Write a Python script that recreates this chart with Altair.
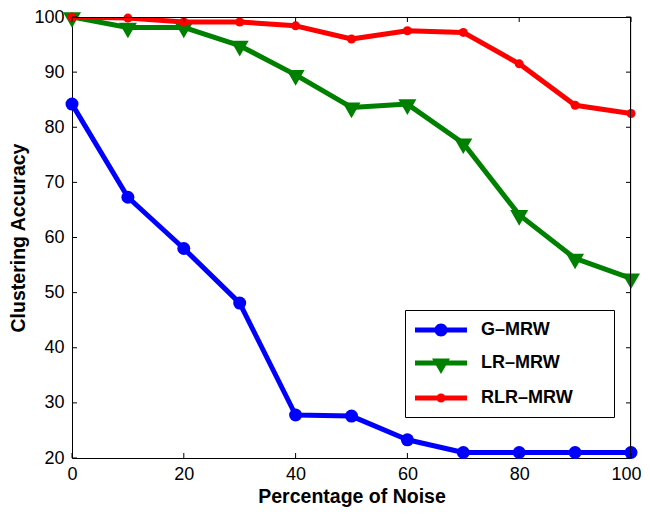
import altair as alt
import pandas as pd

# ---- data ----
noise = [0, 10, 20, 30, 40, 50, 60, 70, 80, 90, 100]
g_mrw = [84.2, 67.3, 58.0, 48.1, 27.8, 27.6, 23.3, 21.0, 21.0, 21.0, 21.0]
lr_mrw = [100.0, 98.1, 98.1, 94.8, 89.5, 83.6, 84.2, 77.1, 64.1, 56.2, 52.6]
rlr_mrw = [100.0, 99.8, 99.1, 99.1, 98.4, 96.0, 97.5, 97.2, 91.5, 84.0, 82.5]
names = ["G\u2013MRW", "LR\u2013MRW", "RLR\u2013MRW"]
colors = ["#0000ff", "#008000", "#ff0000"]
x_ticks = [0, 20, 40, 60, 80, 100]
y_ticks = [20, 30, 40, 50, 60, 70, 80, 90, 100]

rows = []
for name, vals in zip(names, [g_mrw, lr_mrw, rlr_mrw]):
    for xv, yv in zip(noise, vals):
        rows.append({"noise": xv, "acc": yv, "series": name})
df = pd.DataFrame(rows)
xt = pd.DataFrame({"t": x_ticks})
yt = pd.DataFrame({"t": y_ticks})

W, H = 559, 441
FONT = "Liberation Sans"

xscale = alt.Scale(domain=[0, 100], nice=False, zero=False)
yscale = alt.Scale(domain=[20, 100], nice=False, zero=False)
cscale = alt.Scale(domain=names, range=colors)

# legend glyphs: line segment with the series marker (unit = 10px at symbolSize 400)
bar = "M -1 -0.25 L 4.2 -0.25 L 4.2 0.25 L -1 0.25 Z "
leg_paths = [
    bar + "M 2.25 0 A 0.65 0.65 0 1 1 0.95 0 A 0.65 0.65 0 1 1 2.25 0 Z",
    bar + "M 0.7 -0.45 L 2.5 -0.45 L 1.6 1.1 Z",
    bar + "M 2.05 0 A 0.45 0.45 0 1 1 1.15 0 A 0.45 0.45 0 1 1 2.05 0 Z",
]

base = alt.Chart(df)

axis_common = dict(grid=False, ticks=False, domain=True, domainColor="black",
                   domainWidth=1, labelFont=FONT, labelFontSize=18,
                   labelColor="black", titleFont=FONT, titleFontSize=19.5,
                   titleFontWeight="bold", titleColor="black")
x_axis = alt.Axis(values=x_ticks, title="Percentage of Noise",
                  labelPadding=7, titlePadding=4, labelFlush=False,
                  labelOffset={"condition": {"test": "datum.value === 100", "value": -5},
                               "value": 0},
                  **axis_common)
y_axis = alt.Axis(values=y_ticks, title="Clustering Accuracy",
                  labelPadding=8, titlePadding=5, **axis_common)


def X(field):
    return alt.X(field, scale=xscale, axis=x_axis)


def Y(field):
    return alt.Y(field, scale=yscale, axis=y_axis)


layers = []
marker_shapes = ["circle", "triangle-down", "circle"]
marker_sizes = [169, 324, 81]
marker_offsets = [0, 3, 0]
for i, name in enumerate(names):
    sub = base.transform_filter(alt.datum.series == name)
    line = sub.mark_line(strokeWidth=5, clip=True, strokeJoin="round",
                         color=colors[i]).encode(x=X("noise:Q"), y=Y("acc:Q"))
    pts = sub.mark_point(filled=True, opacity=1, shape=marker_shapes[i],
                         size=marker_sizes[i], yOffset=marker_offsets[i],
                         strokeWidth=0, color=colors[i]).encode(
        x=X("noise:Q"), y=Y("acc:Q"))
    layers += [line, pts]

# trailing blank (braille-blank) characters widen the legend box like the reference
leg = alt.Legend(title=None, orient="none", legendX=333, legendY=293,
                 strokeColor="black", fillColor="white", padding=10,
                 symbolSize=400, labelOffset=46, rowPadding=14,
                 labelFont=FONT, labelFontSize=18, labelFontWeight="bold",
                 labelColor="black", labelLimit=400, symbolStrokeWidth=0,
                 labelExpr="datum.label + '\u2800\u00a0\u2800'")
legend_layer = base.transform_filter("datum.noise < -1000").mark_point(
    filled=True, opacity=1).encode(
    x=X("noise:Q"), y=Y("acc:Q"),
    color=alt.Color("series:N", scale=cscale, legend=leg),
    shape=alt.Shape("series:N", scale=alt.Scale(domain=names, range=leg_paths), legend=leg),
)

tick_style = dict(color="black", strokeWidth=1)
bottom_ticks = alt.Chart(xt).mark_rule(**tick_style).encode(
    x=X("t:Q"), y=alt.value(H), y2=alt.value(H - 5))
top_ticks = alt.Chart(xt).mark_rule(**tick_style).encode(
    x=X("t:Q"), y=alt.value(0), y2=alt.value(5))
left_ticks = alt.Chart(yt).mark_rule(**tick_style).encode(
    y=Y("t:Q"), x=alt.value(0), x2=alt.value(5))
right_ticks = alt.Chart(yt).mark_rule(**tick_style).encode(
    y=Y("t:Q"), x=alt.value(W), x2=alt.value(W - 5))
top_frame = alt.Chart(xt).mark_rule(**tick_style).encode(
    x=alt.value(0), x2=alt.value(W), y=alt.value(0.5))
right_frame = alt.Chart(xt).mark_rule(**tick_style).encode(
    x=alt.value(W - 0.5), y=alt.value(0), y2=alt.value(H))

chart = alt.layer(
    *layers, legend_layer, bottom_ticks, top_ticks, left_ticks, right_ticks,
    top_frame, right_frame
).properties(
    width=W, height=H,
    autosize=alt.AutoSizeParams(type="none"),
    padding={"left": 64, "top": 9, "right": 10, "bottom": 49},
).configure_view(
    stroke=None
).configure(background="white")

chart.save("out.html", embed_options={"renderer": "svg", "actions": False})
